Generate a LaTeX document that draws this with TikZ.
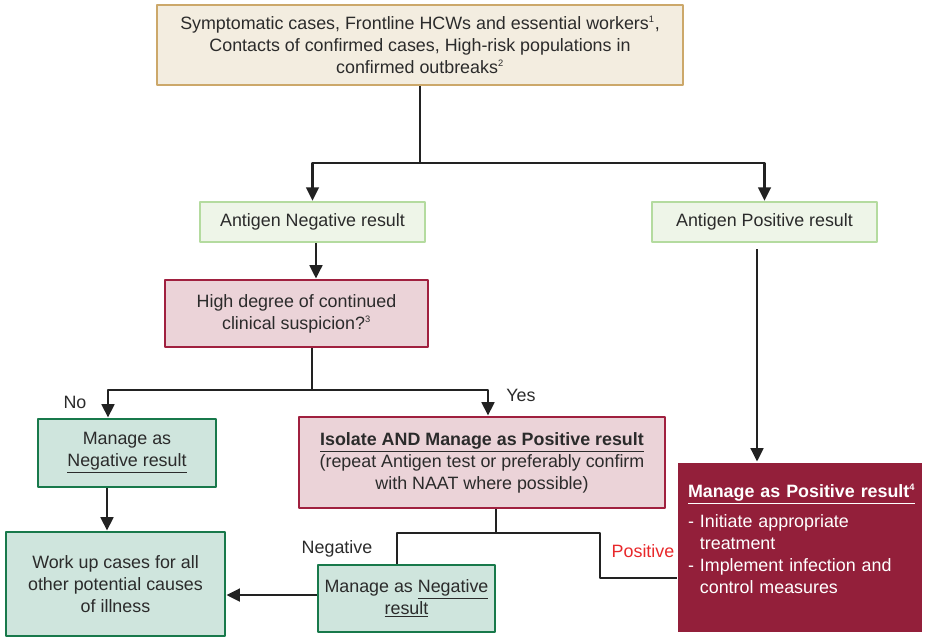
\documentclass[tikz,border=0pt]{standalone}
\usepackage{fontspec}
\setmainfont{Liberation Sans}
\usetikzlibrary{arrows.meta}
\definecolor{txtgray}{HTML}{2B2B2B}
\definecolor{linegray}{HTML}{222222}
\definecolor{beigefill}{HTML}{F3EDE0}
\definecolor{beigeline}{HTML}{CCA86A}
\definecolor{agfill}{HTML}{EEF5E8}
\definecolor{agline}{HTML}{B4DB9F}
\definecolor{pinkfill}{HTML}{EBD3D8}
\definecolor{pinkline}{HTML}{A0203F}
\definecolor{mintfill}{HTML}{CFE5DD}
\definecolor{mintline}{HTML}{18794B}
\definecolor{darkred}{HTML}{931F3A}
\definecolor{posred}{HTML}{E8282B}
\newcommand{\sups}[1]{\textsuperscript{\fontsize{7}{7}\selectfont#1}}
\begin{document}
\begin{tikzpicture}[x=0.75pt,y=-0.75pt,line join=round,
		>={Triangle[length=10pt,width=9.5pt]},
		font=\fontsize{13.4}{16.5}\selectfont,text=txtgray,
		sz/.style 2 args={minimum width=#1*0.75pt,minimum height=#2*0.75pt},
		box/.style={rectangle,inner sep=0pt,align=center,line width=2.2pt},
		topbox/.style={box,draw=beigeline,fill=beigefill},
		agbox/.style={box,draw=agline,fill=agfill,line width=2pt},
		askbox/.style={box,draw=pinkline,fill=pinkfill},
		negbox/.style={box,draw=mintline,fill=mintfill},
		posbox/.style={box,fill=darkred,text=white,align=left},
		conn/.style={draw=linegray,line width=1.9pt},
		lab/.style={inner sep=0pt}]
	\useasboundingbox (0,0) rectangle (925,637);
	% boxes
	\node[topbox,sz={526}{80}] (T) at (420,45)
	{Symptomatic cases, Frontline HCWs and essential workers\sups{1},\\
		Contacts of confirmed cases, High-risk populations in\\
		confirmed outbreaks\sups{2}};
	\node[agbox,sz={225}{40}] (AN) at (312.5,222) {Antigen Negative result};
	\node[agbox,sz={225}{40}] (AP) at (764.5,222) {Antigen Positive result};
	\node[askbox,sz={263}{67}] (HD) at (296.5,313.5)
	{High degree of continued\\clinical suspicion?\sups{3}};
	\node[negbox,sz={178}{68}] (MN) at (127,453)
	{Manage as\\\underline{Negative result}};
	\node[askbox,sz={366}{91}] (IS) at (482,462.5)
	{\textbf{\underline{Isolate AND Manage as Positive result}}\\
		(repeat Antigen test or preferably confirm\\
		with NAAT where possible)};
	\node[negbox,sz={219}{104}] (WU) at (115.5,584)
	{Work up cases for all\\other potential causes\\of illness};
	\node[negbox,sz={177}{67}] (MN2) at (406.5,598.5)
	{Manage as \underline{Negative}\\\underline{result}};
	\node[posbox,sz={244}{169},text width=168pt,inner xsep=7.5pt] (MP) at (800,547.5)
	{\mbox{\textbf{\underline{Manage as Positive result\sups{4}}}}\\[6pt]
		- Initiate appropriate\\
		\phantom{- }treatment\\
		- Implement infection and\\
		\phantom{- }control measures\par\vspace*{13pt}};
	% labels
	\node[lab] (no) at (75,402) {No};
	\node[lab] (yes) at (521,395) {Yes};
	\node[lab] (neg) at (337,549) {Negative};
	\node[lab,text=posred] (pos) at (643,551) {Positive};
	% connectors
	\coordinate (s1) at (420,163);
	\coordinate (s2) at (312,390);
	\coordinate (s3) at (496,533);
	\coordinate (s4) at (600,578);
	\draw[conn] (T.south) -- (s1);
	\draw[conn,->] (s1) -| (AN.north);
	\draw[conn,->] (s1) -| (AP.north);
	\draw[conn,->] ([xshift=2.6pt]AN.south) -- ([xshift=2.6pt]AN.south |- HD.north);
	\draw[conn] (s2 |- HD.south) -- (s2);
	\draw[conn,->] (s2) -| ([xshift=-14.25pt]MN.north);
	\draw[conn,->] (s2) -| ([xshift=4.5pt]IS.north);
	\draw[conn,->] ([xshift=-15pt]MN.south) -- ([xshift=-15pt]MN.south |- WU.north);
	\draw[conn] (s3 |- IS.south) -- (s3) -| ([xshift=-7pt]MN2.north);
	\draw[conn] (s3) -| (s4) -- (s4 -| MP.west);
	\draw[conn,->] ([yshift=2.6pt]MN2.west) -- ([yshift=2.6pt]MN2.west -| WU.east);
	\draw[conn,->,shorten <=4.5pt] ([xshift=-5.6pt]AP.south) -- ([xshift=-5.6pt]AP.south |- MP.north);
\end{tikzpicture}
\end{document}
